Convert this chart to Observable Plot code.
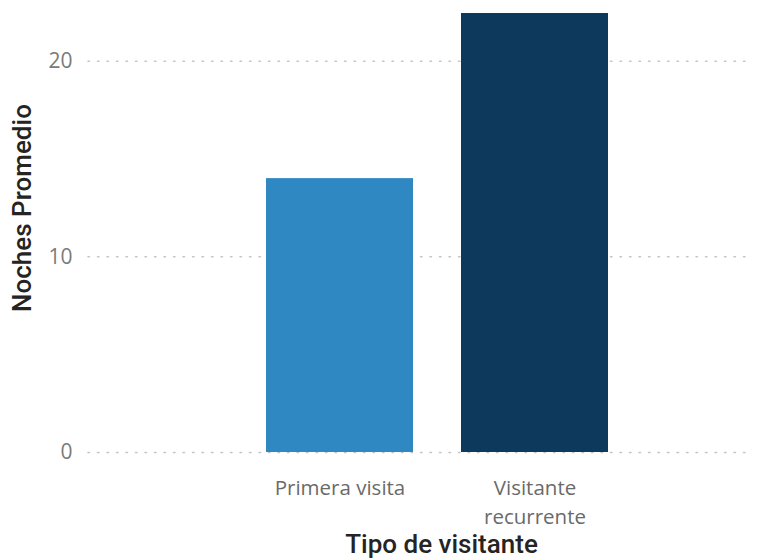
<!DOCTYPE html>
<html>
<head>
<meta charset="utf-8">
<script src="https://cdn.jsdelivr.net/npm/d3@7"></script>
<script src="https://cdn.jsdelivr.net/npm/@observablehq/plot@0.6"></script>
<style>
  html, body { margin: 0; padding: 0; background: #fff; }
</style>
</head>
<body>
<div id="chart"></div>
<script>
const categories = ["Primera visita", "Visitante recurrente"];
const tickLabels = ["Primera visita", "Visitante\nrecurrente"];
const values = [14.0, 22.44];
const barColors = ["#2F88C2", "#0D3A5C"];
const yTicks = [0, 10, 20];
const xTitle = "Tipo de visitante";
const yTitle = "Noches Promedio";

const data = categories.map((c, i) => ({cat: c, value: values[i], color: barColors[i]}));
const labelOf = new Map(categories.map((c, i) => [c, tickLabels[i]]));

const chart = Plot.plot({
  width: 765,
  height: 560,
  marginLeft: 88,
  marginRight: 15,
  marginTop: 13,
  marginBottom: 108,
  style: {fontFamily: "'Open Sans', sans-serif", background: "#fff", overflow: "visible"},
  x: {domain: categories, range: [218, 656], padding: 0.246, label: null},
  y: {domain: [0, 22.44], label: null},
  marks: [
    Plot.ruleY(yTicks, {stroke: "#c4c4c4", strokeWidth: 1.5, strokeDasharray: "1.5,8", strokeLinecap: "round"}),
    Plot.barY(data, {x: "cat", y: "value", fill: "color"}),
    Plot.axisY(yTicks, {tickSize: 0, tickPadding: 16, fontSize: 21, color: "#7a7a7a", label: null}),
    Plot.axisX({tickSize: 0, tickPadding: 22, fontSize: 20.5, color: "#6a6a6a", lineHeight: 1.4, tickFormat: d => labelOf.get(d), label: null}),
    Plot.text([xTitle], {frameAnchor: "bottom", textAnchor: "middle", dx: 22, dy: 100, fontSize: 26, fontWeight: 500, fill: "#252423", fontFamily: "Roboto"}),
    Plot.text([yTitle], {frameAnchor: "left", textAnchor: "middle", rotate: -90, dx: -66, dy: -25, fontSize: 26, fontWeight: 500, fill: "#252423", fontFamily: "Roboto"})
  ]
});
document.getElementById("chart").appendChild(chart);
</script>
</body>
</html>
